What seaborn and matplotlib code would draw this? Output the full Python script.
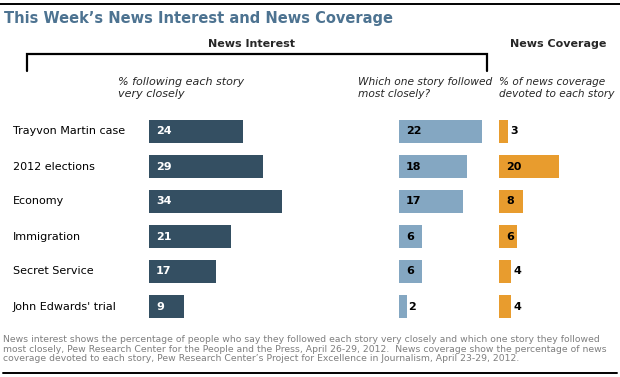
import matplotlib.pyplot as plt
import matplotlib.transforms as mtransforms
from matplotlib.lines import Line2D
import seaborn as sns

sns.set_style("white")
plt.rcParams["font.family"] = ["DejaVu Sans"]

# data
stories = ["Trayvon Martin case", "2012 elections", "Economy",
           "Immigration", "Secret Service", "John Edwards' trial"]
interest = [24, 29, 34, 21, 17, 9]
most_closely = [22, 18, 17, 6, 6, 2]
coverage = [3, 20, 8, 6, 4, 4]

W, H = 620, 377
fig = plt.figure(figsize=(W / 100, H / 100), dpi=100)


def px_axes(x0, x1, y0, y1):
    return fig.add_axes([x0 / W, 1 - y1 / H, (x1 - x0) / W, (y1 - y0) / H])


def fx(x):
    return x / W


def fy(y):
    return 1 - y / H


# (values, start px, px per unit, xmax, colour, label colour inside)
panels = [
    (interest, 149, 3.92, 40, "#344f62", "white"),
    (most_closely, 399, 3.78, 25, "#84a7c2", "black"),
    (coverage, 499, 3.0, 30, "#e89c2e", "black"),
]

axes = []
for vals, x0, ppu, xmax, col, lab_col in panels:
    ax = px_axes(x0, x0 + ppu * xmax, 114, 324)
    sns.barplot(x=vals, y=stories, orient="h", color=col, saturation=1,
                width=0.66, linewidth=0, ax=ax)
    ax.set_xlim(0, xmax)
    ax.set_ylim(5.5, -0.5)
    ax.axis("off")
    for i, v in enumerate(vals):
        if v * ppu >= 14:
            ax.annotate(str(v), (0, i), xytext=(7, 0), textcoords="offset pixels",
                        ha="left", va="center", fontsize=8, fontweight="bold",
                        color=lab_col)
        else:
            ax.annotate(str(v), (v, i), xytext=(2, 0), textcoords="offset pixels",
                        ha="left", va="center", fontsize=8, fontweight="bold",
                        color="black")
    axes.append(ax)

# row labels
trans = mtransforms.blended_transform_factory(fig.transFigure, axes[0].transData)
for i, s in enumerate(stories):
    axes[0].text(fx(13), i, s, transform=trans, ha="left", va="center",
                 fontsize=8, color="black")

# title and rules
fig.add_artist(Line2D([0, 1], [fy(3.5), fy(3.5)], color="black", lw=1.4))
fig.text(fx(4), fy(18), "This Week\u2019s News Interest and News Coverage",
         ha="left", va="center", fontsize=10.5, fontweight="bold", color="#4d7391")

fig.text(fx(251), fy(44), "News Interest", ha="center", va="center",
         fontsize=8, fontweight="bold")
fig.text(fx(558), fy(44), "News Coverage", ha="center", va="center",
         fontsize=8, fontweight="bold")

# bracket over the interest columns
fig.add_artist(Line2D([fx(27), fx(27), fx(487), fx(487)],
                      [fy(71), fy(54), fy(54), fy(71)],
                      color="black", lw=1.6, solid_joinstyle="miter"))

fig.text(fx(118), fy(88), "% following each story\nvery closely", ha="left",
         va="center", fontsize=8, style="italic", linespacing=1.15)
fig.text(fx(358), fy(88), "Which one story followed\nmost closely?", ha="left",
         va="center", fontsize=7.7, style="italic", linespacing=1.2)
fig.text(fx(499), fy(88), "% of news coverage\ndevoted to each story", ha="left",
         va="center", fontsize=7.6, style="italic", linespacing=1.2)

note = ("News interest shows the percentage of people who say they followed each story very closely and which one story they followed\n"
        "most closely, Pew Research Center for the People and the Press, April 26-29, 2012.  News coverage show the percentage of news\n"
        "coverage devoted to each story, Pew Research Center\u2019s Project for Excellence in Journalism, April 23-29, 2012.")
fig.text(fx(3), fy(349), note, ha="left", va="center", fontsize=6.7,
         color="#7f7f7f", linespacing=1.03)
fig.add_artist(Line2D([fx(3), fx(617)], [fy(373), fy(373)], color="black", lw=1.4))

fig.savefig("out.png", dpi=100)
